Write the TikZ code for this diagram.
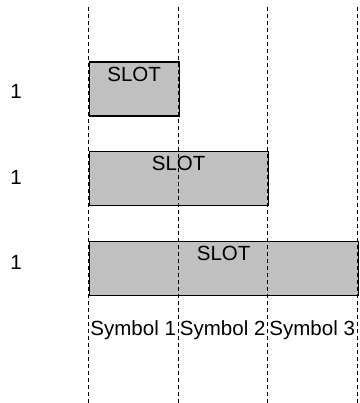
\documentclass[tikz,border=0pt]{standalone}
\usepackage{fontspec}
\setmainfont{Liberation Sans}
\begin{document}
\begin{tikzpicture}[x=1pt,y=-1pt,
  slotbox/.style={draw=black,fill={rgb,255:red,192;green,192;blue,192},line width=1.2pt,inner sep=0pt,anchor=north west,minimum height=54pt},
  lbl/.style={inner sep=0pt,font=\fontsize{20.5}{23}\selectfont,anchor=base},
  gridline/.style={draw=black,line width=1.1pt,dash pattern=on 3.6pt off 3.4pt}]
\useasboundingbox (0,0) rectangle (359,403);
% slots
\node[slotbox,minimum width=90pt] (b1) at (88.5,61.5) {};
\node[slotbox,minimum width=179pt] (b2) at (88.5,151) {};
\node[slotbox,minimum width=269pt] (b3) at (88.5,240.5) {};
\node[lbl] (t1) at ([yshift=-20.5pt]b1.north) {SLOT};
\node[lbl] (t2) at ([yshift=-20pt]b2.north) {SLOT};
\node[lbl] (t3) at ([yshift=-19.5pt]b3.north) {SLOT};
% row labels
\node[lbl] (r1) at (16,99) {1};
\node[lbl] (r2) at (16,184.3) {1};
\node[lbl] (r3) at (16,269) {1};
% grid lines
\foreach \x/\n in {88.5/a,178.5/b,267.5/c,357.5/d}{
  \coordinate (top\n) at (\x,7);
  \coordinate (bot\n) at (\x,403);
  \draw[gridline] (top\n) -- (bot\n);
}
% symbol labels
\node[lbl] (s1) at (133.2,335) {Symbol 1};
\node[lbl] (s2) at (222.7,335) {Symbol 2};
\node[lbl] (s3) at (312.2,335) {Symbol 3};
\end{tikzpicture}
\end{document}
